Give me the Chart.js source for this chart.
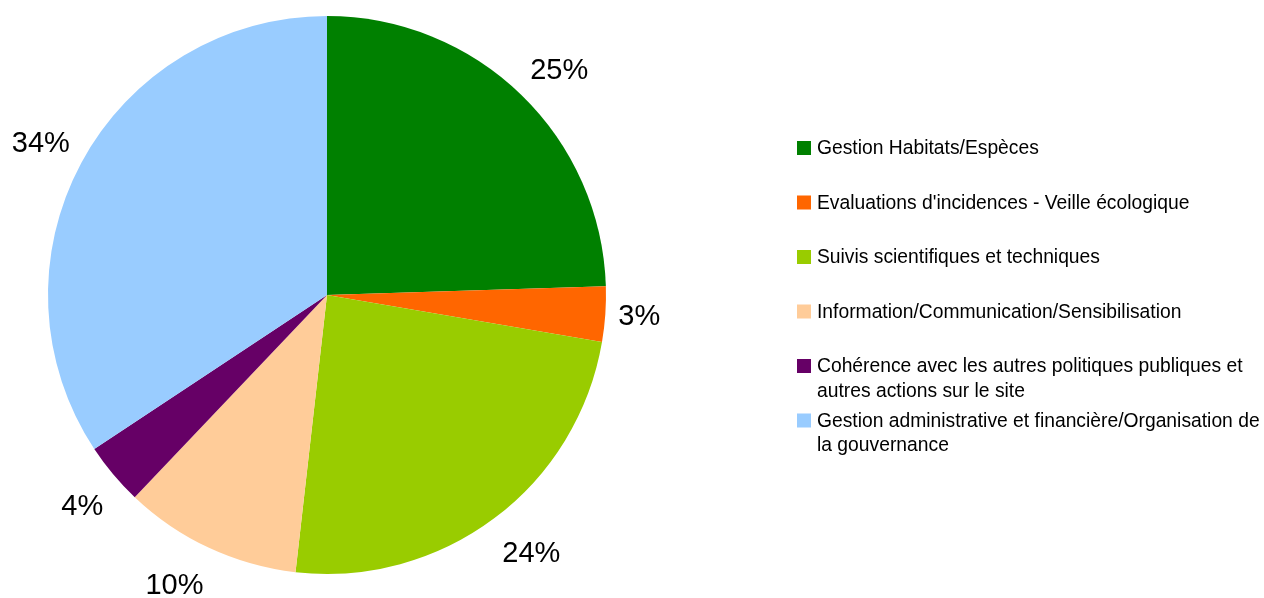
<!DOCTYPE html>
<html>
<head>
<meta charset="utf-8">
<script src="https://cdn.jsdelivr.net/npm/chart.js@4"></script>
<style>
    html, body { margin: 0; padding: 0; background: #fff; }
    #wrap { width: 1264px; height: 598px; }
</style>
</head>
<body>
<div id="wrap"><canvas id="chart" width="1264" height="598"></canvas></div>
<script>
// Données (%)
const categories = [
    ['Gestion Habitats/Espèces'],
    ["Evaluations d'incidences - Veille écologique"],
    ['Suivis scientifiques et techniques'],
    ['Information/Communication/Sensibilisation'],
    ['Cohérence avec les autres politiques publiques et', 'autres actions sur le site'],
    ['Gestion administrative et financière/Organisation de', 'la gouvernance']
];
const valeurs = [24.5, 3.2, 24.1, 10.3, 3.6, 34.3];
const couleurs = ['#008000', '#ff6600', '#99cc00', '#ffcc99', '#660066', '#99ccff'];

const POLICE = '"Liberation Sans", Arial, sans-serif';

// étiquettes de pourcentage à l'extérieur des parts
// point d'ancrage sur le rayon médian, texte aligné selon le secteur
const etiquettesExterieures = {
    id: 'etiquettesExterieures',
    afterDatasetsDraw(chart) {
        const ctx = chart.ctx;
        const arcs = chart.getDatasetMeta(0).data;
        const total = valeurs.reduce((a, b) => a + b, 0);
        ctx.save();
        ctx.font = '29px ' + POLICE;
        ctx.fillStyle = '#000';
        ctx.textBaseline = 'middle';
        arcs.forEach((arc, i) => {
            const mid = (arc.startAngle + arc.endAngle) / 2;
            const texte = Math.round(valeurs[i] / total * 100) + '%';
            const c = Math.cos(mid), s = Math.sin(mid);
            const x = arc.x + c * (arc.outerRadius + 13);
            let y = arc.y + s * (arc.outerRadius + 19);
            ctx.textAlign = c > 0.2 ? 'left' : (c < -0.2 ? 'right' : 'center');
            if (s > 0.3) y += 20;
            else if (s < -0.3) y -= 11;
            ctx.fillText(texte, x, y + 1);
        });
        ctx.restore();
    }
};

// légende à droite, avec libellés sur plusieurs lignes
const legendeDroite = {
    id: 'legendeDroite',
    afterDraw(chart) {
        const ctx = chart.ctx;
        ctx.save();
        ctx.font = '19.3px ' + POLICE;
        ctx.textBaseline = 'middle';
        categories.forEach((lignes, i) => {
            const y = 148 + i * 54.5;
            ctx.fillStyle = couleurs[i];
            ctx.fillRect(797, y - 7, 14, 14);
            ctx.fillStyle = '#000';
            lignes.forEach((l, j) => ctx.fillText(l, 817, y + 1 + j * 24.5));
        });
        ctx.restore();
    }
};

new Chart(document.getElementById('chart'), {
    type: 'pie',
    data: {
        labels: categories.map(c => c.join(' ')),
        datasets: [{
            data: valeurs,
            backgroundColor: couleurs,
            borderWidth: 0
        }]
    },
    options: {
        responsive: false,
        animation: false,
        layout: { padding: { left: 48, top: 16, right: 658, bottom: 24 } },
        plugins: {
            legend: { display: false },
            tooltip: { enabled: false }
        }
    },
    plugins: [etiquettesExterieures, legendeDroite]
});
</script>
</body>
</html>
